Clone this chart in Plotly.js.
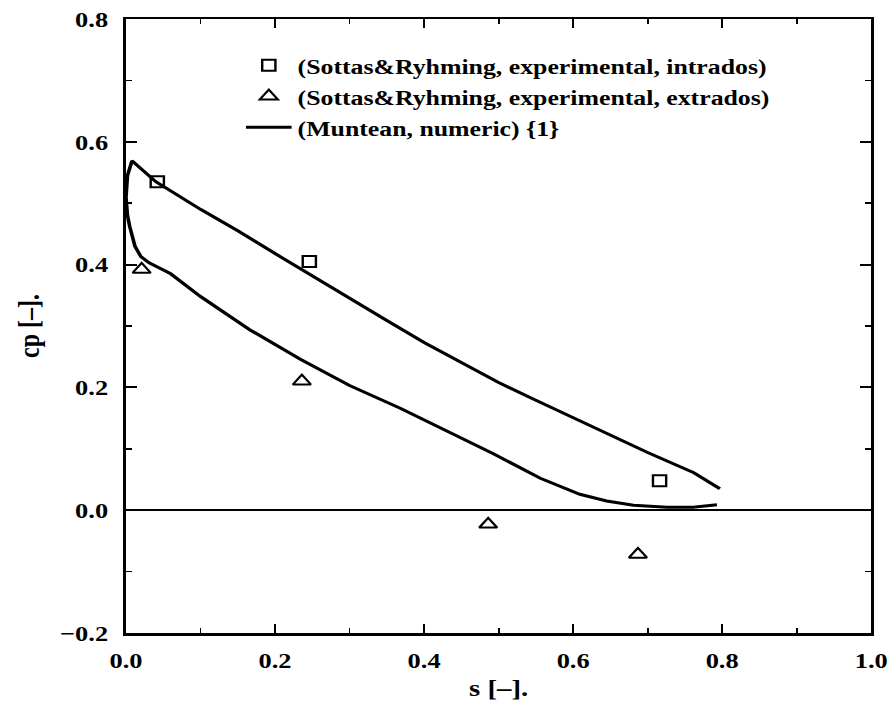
<!DOCTYPE html>
<html>
<head>
<meta charset="utf-8">
<script src="https://cdn.plot.ly/plotly-3.0.1.min.js"></script>
<style>
  html, body { margin: 0; padding: 0; background: #fff; overflow: hidden; }
  /* the figure is laid out narrow and widened, giving its broad print lettering */
  #chart { width: 742px; height: 706px; transform: scaleX(1.2); transform-origin: 0 0; }
</style>
</head>
<body>
<div id="chart"></div>
<script>
// Experimental pressure coefficient, intrados (pressure side)
const intradosS  = [0.042, 0.246, 0.716];
const intradosCp = [0.535, 0.405, 0.048];

// Experimental pressure coefficient, extrados (suction side)
const extradosS  = [0.021, 0.236, 0.486, 0.687];
const extradosCp = [0.392, 0.210, -0.023, -0.072];

// Numerical solution: intrados from trailing edge to leading edge,
// then round the nose and back along the extrados
const numericS = [
  0.797, 0.762, 0.70, 0.65, 0.60, 0.55, 0.50, 0.45, 0.40, 0.35, 0.30, 0.25,
  0.20, 0.15, 0.10, 0.04, 0.008,
  0.002, 0.0, 0.002, 0.005, 0.012, 0.020, 0.031, 0.06, 0.10, 0.166, 0.234,
  0.30, 0.368, 0.435, 0.493, 0.556, 0.609, 0.645, 0.681, 0.726, 0.761, 0.793
];
const numericCp = [
  0.035, 0.061, 0.094, 0.122, 0.150, 0.179, 0.208, 0.240, 0.273, 0.309, 0.345, 0.382,
  0.418, 0.455, 0.490, 0.535, 0.569,
  0.545, 0.510, 0.480, 0.462, 0.430, 0.413, 0.403, 0.385, 0.348, 0.294, 0.246,
  0.203, 0.166, 0.127, 0.092, 0.052, 0.026, 0.015, 0.008, 0.005, 0.005, 0.009
];

// Axis extents, labelled tick spacing and the finer unlabelled spacing
const sRange = [0, 1];
const cpRange = [-0.2, 0.8];
const majorStep = 0.2;
const minorStep = 0.1;

const serif = 'Liberation Serif, Times New Roman, serif';
const boldFont = (size) => ({ family: serif, size: size, color: '#000', weight: 'bold' });

const traces = [
  {
    x: intradosS, y: intradosCp, type: 'scatter', mode: 'markers',
    name: '(Sottas&Ryhming, experimental, intrados)',
    marker: { symbol: 'square-open', size: 11, color: '#000', line: { width: 2, color: '#000' } }
  },
  {
    x: extradosS, y: extradosCp, type: 'scatter', mode: 'markers',
    name: '(Sottas&Ryhming, experimental, extrados)',
    marker: { symbol: 'triangle-up-open', size: 13, color: '#000', line: { width: 2, color: '#000' } }
  },
  {
    // drawn on the overlaid pair of axes (same ranges) that carry the fine ticks
    x: numericS, y: numericCp, type: 'scatter', mode: 'lines',
    xaxis: 'x2', yaxis: 'y2',
    name: '(Muntean, numeric) {1}',
    line: { color: '#000', width: 3 }
  }
];

const axisCommon = {
  showgrid: false,
  showline: true, linecolor: '#000', linewidth: 2.5,
  mirror: 'ticks',
  tickmode: 'linear', tick0: 0, dtick: majorStep, tickformat: '.1f',
  ticks: 'inside', ticklen: 9, tickwidth: 2, tickcolor: '#000',
  tickfont: boldFont(22)
};

// Overlaid companion axes carrying only the short unlabelled ticks
const fineAxis = {
  showgrid: false, zeroline: false, showline: false, showticklabels: false,
  mirror: 'ticks',
  tickmode: 'linear', tick0: 0, dtick: minorStep,
  ticks: 'inside', ticklen: 5, tickwidth: 1.5, tickcolor: '#000'
};

const layout = {
  width: 742, height: 706,
  margin: { l: 105, r: 16, t: 19, b: 73 },
  paper_bgcolor: '#fff', plot_bgcolor: '#fff',
  showlegend: true,
  legend: {
    x: 0.153, y: 0.958, xanchor: 'left', yanchor: 'top',
    bgcolor: 'rgba(0,0,0,0)', borderwidth: 0,
    itemwidth: 38, tracegroupgap: 0,
    font: boldFont(21.5)
  },
  xaxis: Object.assign({}, axisCommon, {
    range: sRange,
    zeroline: false, ticklabelstandoff: 6,
    title: { text: 's [\u2013].', font: boldFont(24), standoff: 8 }
  }),
  yaxis: Object.assign({}, axisCommon, {
    range: cpRange,
    zeroline: true, zerolinecolor: '#000', zerolinewidth: 2.5, ticklabelstandoff: 8
  }),
  xaxis2: Object.assign({}, fineAxis, { range: sRange, overlaying: 'x', anchor: 'y2', side: 'bottom' }),
  yaxis2: Object.assign({}, fineAxis, { range: cpRange, overlaying: 'y', anchor: 'x2', side: 'left' }),
  annotations: [
    {
      text: 'cp [\u2013].', textangle: -90, font: boldFont(24),
      xref: 'paper', yref: 'paper', x: -0.129, y: 0.5,
      xanchor: 'center', yanchor: 'middle', showarrow: false
    }
  ]
};

Plotly.newPlot('chart', traces, layout, { displayModeBar: false, staticPlot: true });
</script>
</body>
</html>
